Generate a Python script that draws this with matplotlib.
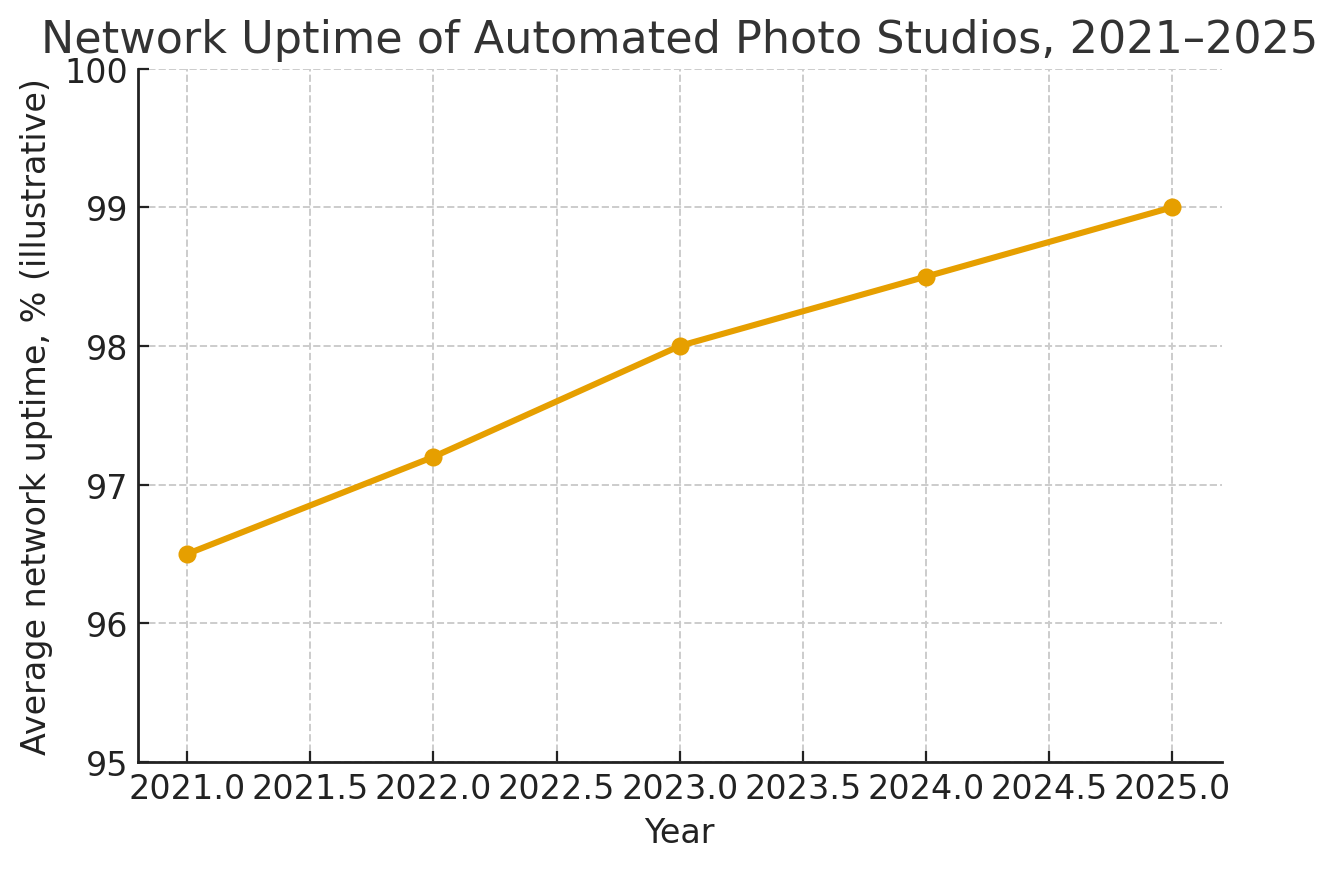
import matplotlib
matplotlib.use("Agg")
import matplotlib.pyplot as plt

# data
years = [2021, 2022, 2023, 2024, 2025]
uptime = [96.5, 97.2, 98.0, 98.5, 99.0]

fig = plt.figure(figsize=(6.69, 4.35), dpi=200)
ax = fig.add_axes([0.103, 0.123, 0.810, 0.797])

ax.plot(years, uptime, color="#E69F00", linewidth=2.2, marker="o", markersize=5.5)

ax.set_ylim(95, 100)
ax.set_xticks([2021.0, 2021.5, 2022.0, 2022.5, 2023.0, 2023.5, 2024.0, 2024.5, 2025.0])
ax.set_xticklabels(["%.1f" % t for t in ax.get_xticks()])

ax.grid(True, linestyle="--", color="#cccccc", linewidth=0.7)
ax.set_axisbelow(True)
for s in ["top", "right"]:
    ax.spines[s].set_visible(False)
for s in ["left", "bottom"]:
    ax.spines[s].set_color("#222222")
    ax.spines[s].set_linewidth(1.0)
ax.tick_params(direction="in", labelsize=12, colors="#222222", length=4)

ax.set_xlabel("Year", fontsize=12, color="#222222")
ax.set_ylabel("Average network uptime, % (illustrative)", fontsize=12, color="#222222")
ax.set_title("Network Uptime of Automated Photo Studios, 2021–2025", fontsize=16, color="#333333")

fig.savefig("out.png", dpi=200)
